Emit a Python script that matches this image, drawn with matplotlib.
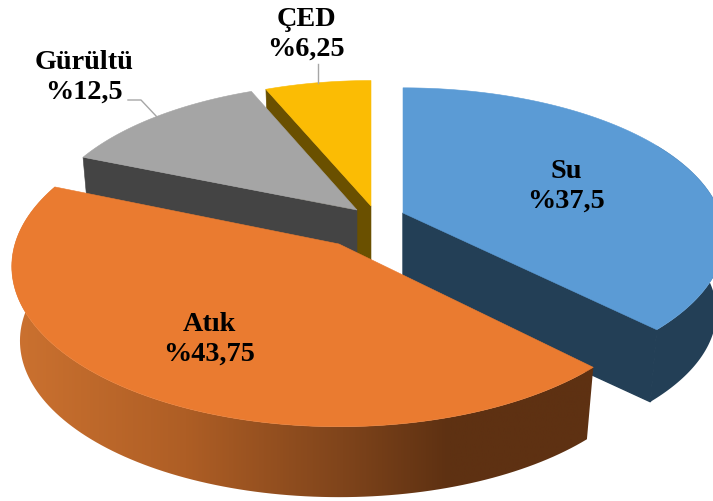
import numpy as np
import matplotlib
matplotlib.use('Agg')
import matplotlib.pyplot as plt
from matplotlib.colors import LinearSegmentedColormap
from matplotlib.patches import Polygon

names = ['Su', 'Atık', 'Gürültü', 'ÇED']
values = [37.5, 43.75, 12.5, 6.25]
top_colors = ['#5B9BD5', '#EA7B30', '#A5A5A5', '#FBBC04']
wall_colors = ['#233F56', '#7F441B', '#444444', '#6A5000']

# pixel geometry of each exploded slice: apex x, apex y, radius, tilt, perspective
apex_x = [403, 339, 357, 371]
apex_y = [214, 245, 211, 207]
radius = [317, 324, 313, 300]
tilt = [0.46, 0.485, 0.465, 0.46]
persp = [0.165, 0.14, 0.145, 0.10]
label_x = [566, 209, 84, 306]
label_y = [186, 339, 77, 34]
drop = 75
shrink = 0.975


def project(i, theta, lower=False):
    x = np.sin(theta)
    y = np.cos(theta)
    w = 1 + persp[i] * y
    dx = radius[i] * x / w
    dy = -tilt[i] * radius[i] * y / w
    if lower:
        return apex_x[i] + shrink * dx, apex_y[i] + shrink * dy + drop
    return apex_x[i] + dx, apex_y[i] + dy


def arc(i, a, b, lower=False):
    th = np.linspace(a, b, 120)
    px, py = project(i, th, lower)
    return np.column_stack([px, py])


def radial_wall(i, theta):
    return [(apex_x[i], apex_y[i]), project(i, theta), project(i, theta, True),
            (apex_x[i], apex_y[i] + drop)]


fig = plt.figure(figsize=(7.13, 5.02), dpi=100)
ax = fig.add_axes([0, 0, 1, 1])

edges = np.concatenate([[0], np.cumsum(values)]) / 100 * 2 * np.pi
start = edges[:-1]
end = edges[1:]


def top_face(i):
    pts = np.vstack([[(apex_x[i], apex_y[i])], arc(i, start[i], end[i])])
    return Polygon(pts, closed=True, fc=top_colors[i], ec=top_colors[i], lw=0.4)


# CED
ax.add_patch(Polygon(radial_wall(3, start[3]), fc=wall_colors[3], ec=wall_colors[3], lw=0.4))
ax.add_patch(top_face(3))

# Gurultu
ax.add_patch(Polygon(radial_wall(2, start[2]), fc=wall_colors[2], ec=wall_colors[2], lw=0.4))
ax.add_patch(top_face(2))

# Su, thick edge on the flat wall so no seam shows, outer wall starts past the back
outer = np.vstack([arc(0, np.pi / 3, end[0]), arc(0, np.pi / 3, end[0], True)[::-1]])
ax.add_patch(Polygon(outer, fc=wall_colors[0], ec='none'))
ax.add_patch(Polygon(radial_wall(0, end[0]), fc=wall_colors[0], ec=wall_colors[0], lw=1.0))
ax.add_patch(top_face(0))

# Atik, side wall has a left to right shading
outer = np.vstack([arc(1, start[1], end[1]), arc(1, start[1], end[1], True)[::-1]])
clip = Polygon(outer, fc='none', ec='none', transform=ax.transData)
ax.add_patch(clip)
cmap = LinearSegmentedColormap.from_list('side', [(0, '#CC7230'), (0.3, '#AE5E25'),
                                                  (0.57, '#7F441B'), (0.75, '#5E3112'), (1, '#5E3112')])
grad = np.linspace(0, 1, 256).reshape(1, -1)
im = ax.imshow(grad, cmap=cmap, extent=(10, 595, 510, 180), aspect='auto', zorder=1)
im.set_clip_path(clip)
orange_top = top_face(1)
orange_top.set_zorder(2)
ax.add_patch(orange_top)

# leader lines
ax.plot([318, 318], [65, 84], color='#A6A6A6', lw=1, zorder=3)
ax.plot([128, 141, 157], [101, 101, 118], color='#A6A6A6', lw=1, zorder=3)

for i in range(4):
    txt = names[i] + '\n%' + str(values[i]).replace('.', ',')
    ax.text(label_x[i], label_y[i], txt, ha='center', va='center', family='Liberation Serif',
            fontweight='bold', fontsize=20.3, linespacing=1.26, color='black', zorder=4)

ax.set_xlim(0, 713)
ax.set_ylim(502, 0)
ax.axis('off')
fig.savefig('out.png', dpi=100)
